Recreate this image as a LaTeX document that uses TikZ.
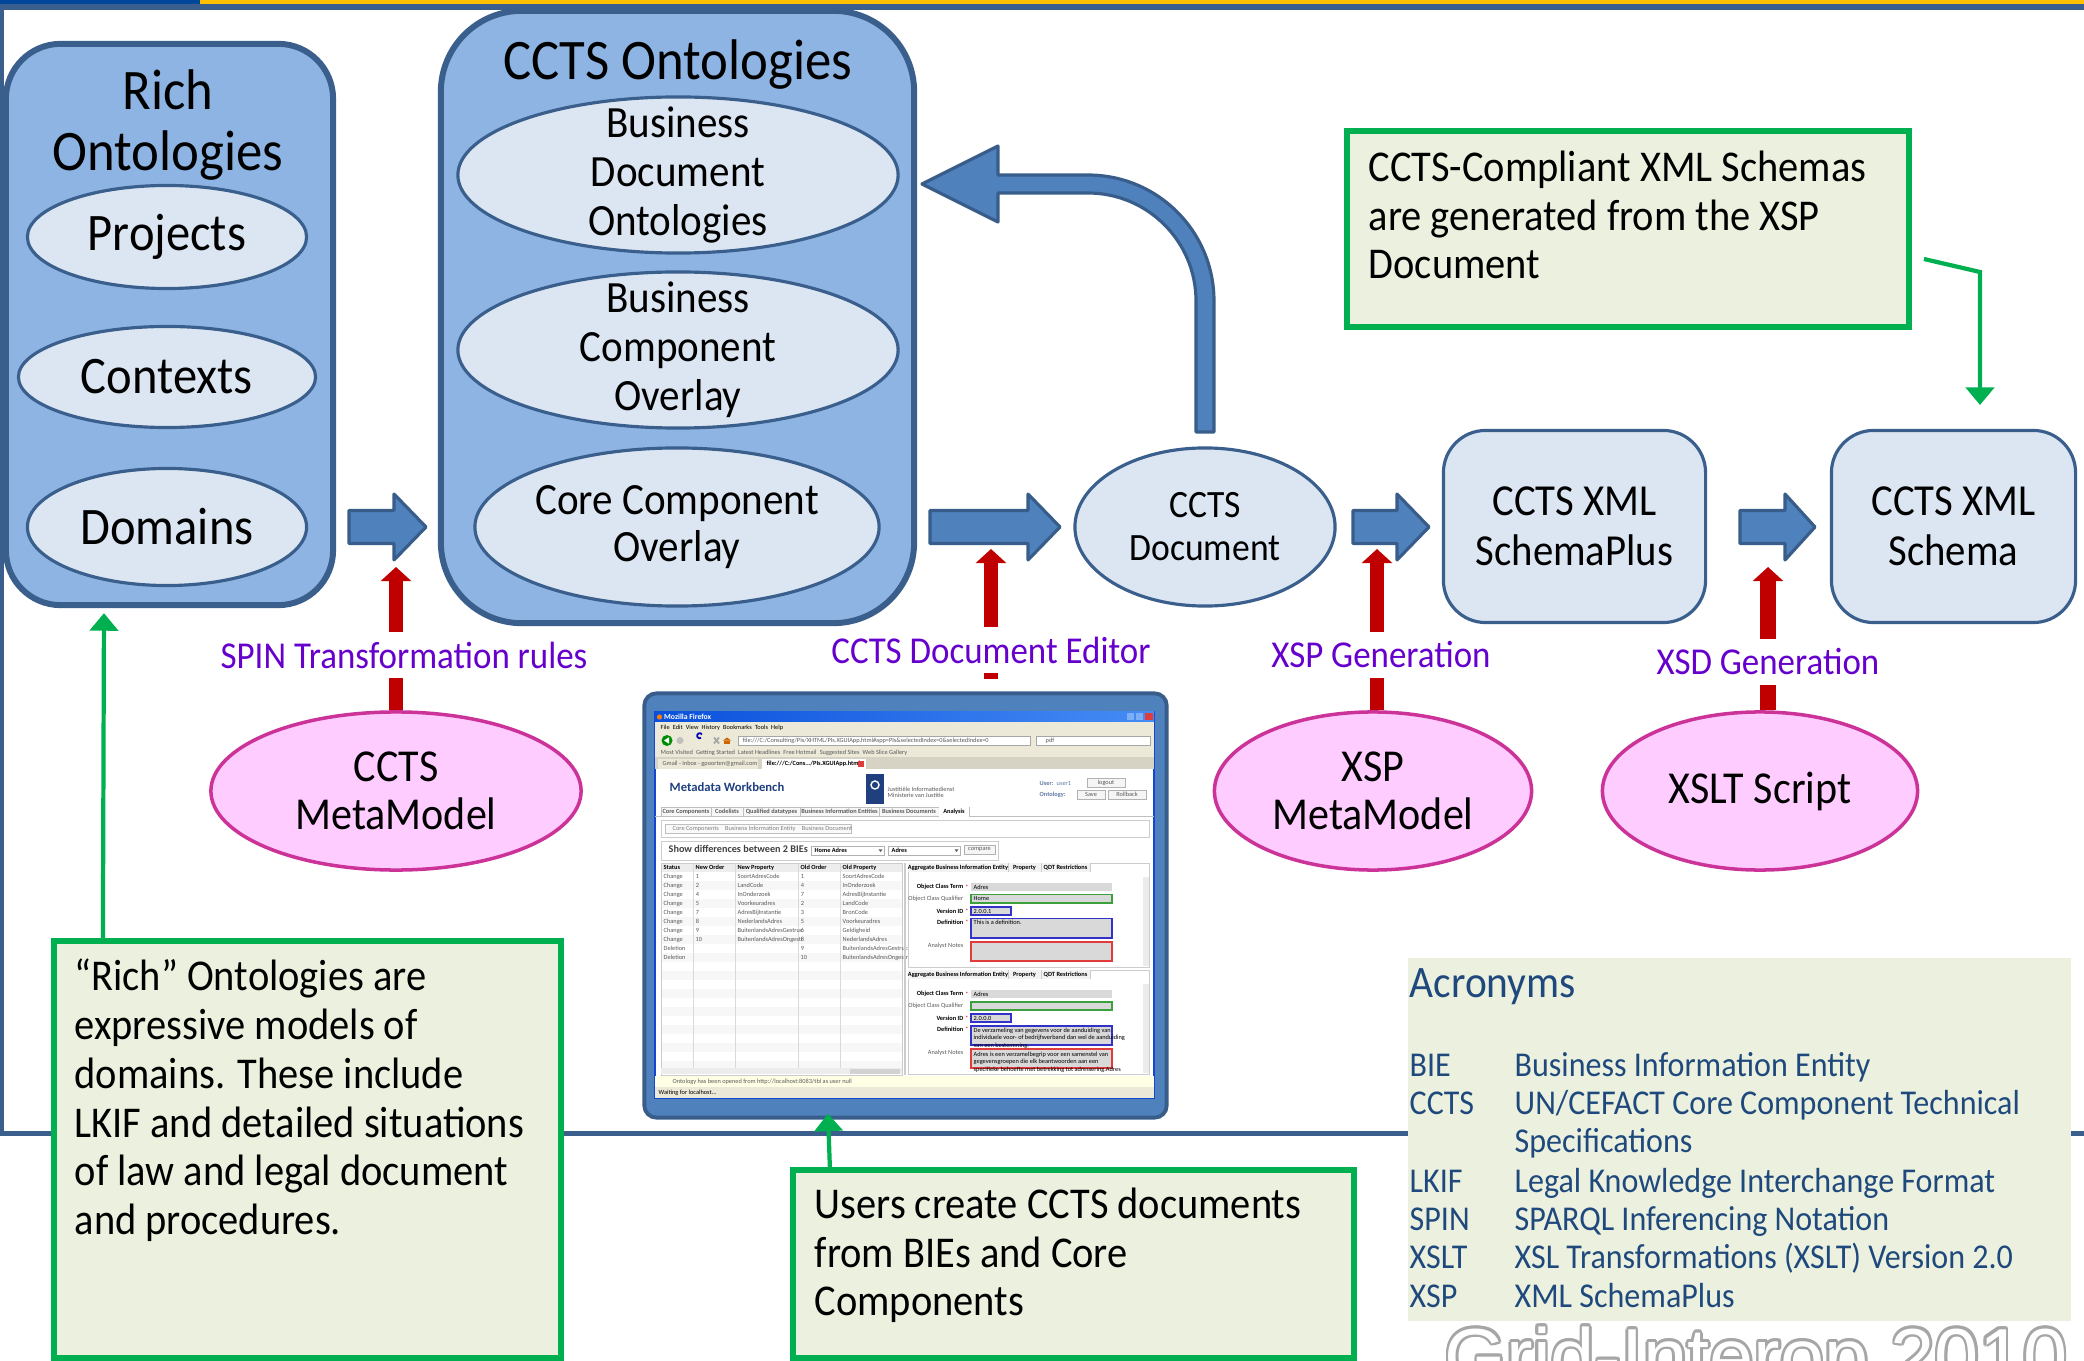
\documentclass[tikz,border=0pt]{standalone}
\usepackage{fontspec}
\setmainfont{Carlito}[FakeStretch=0.92]
\newfontfamily\uifont{Carlito}
\newfontfamily\wmfont{Liberation Sans}
\usetikzlibrary{arrows.meta,shapes.geometric}

\definecolor{frameblue}{RGB}{58,95,140}
\definecolor{boxblue}{RGB}{142,180,227}
\definecolor{paleblue}{RGB}{220,230,242}
\definecolor{arrowblue}{RGB}{79,129,189}
\definecolor{arrowedge}{RGB}{56,93,138}
\definecolor{pinkfill}{RGB}{255,204,255}
\definecolor{pinkedge}{RGB}{204,51,153}
\definecolor{rulered}{RGB}{192,0,0}
\definecolor{notegreen}{RGB}{0,176,80}
\definecolor{notefill}{RGB}{235,241,222}
\definecolor{labelviolet}{RGB}{102,0,204}
\definecolor{acrblue}{RGB}{31,73,125}
\definecolor{topgold}{RGB}{255,192,0}
\definecolor{topblue}{RGB}{0,70,155}
\definecolor{wmgrey}{RGB}{166,166,166}
\definecolor{xpblue}{RGB}{20,70,210}
\definecolor{xptitleA}{RGB}{10,80,220}
\definecolor{xptitleB}{RGB}{70,140,245}
\definecolor{xpbeige}{RGB}{236,233,216}
\definecolor{xptab}{RGB}{214,210,196}
\definecolor{uiink}{RGB}{90,90,90}
\definecolor{uihead}{RGB}{31,63,127}
\definecolor{fieldgrey}{RGB}{217,217,217}
\definecolor{fieldgreen}{RGB}{60,160,60}
\definecolor{fieldblue}{RGB}{50,50,200}
\definecolor{fieldred}{RGB}{224,60,60}
\definecolor{statusfill}{RGB}{255,255,230}

\newcommand\setfs[2]{\fontsize{#1}{#2}\selectfont}
% right-pointing block arrow: tail x, head base x, tip x, centre y
\newcommand\flowarrow[4]{%
  \draw[blockarrow] (#1,#4-16.5) -- (#2,#4-16.5) -- (#2,#4-33) -- (#3,#4)
    -- (#2,#4+33) -- (#2,#4+16.5) -- (#1,#4+16.5) -- cycle;}

\begin{document}
\begin{tikzpicture}[x=0.01cm,y=-0.01cm,
  container/.style={draw=frameblue,line width=1.7pt,fill=boxblue,inner sep=0pt},
  subellipse/.style={ellipse,draw=frameblue,line width=0.9pt,fill=paleblue,inner sep=0pt},
  stage/.style={draw=frameblue,line width=0.9pt,fill=paleblue,rounded corners=12pt,inner sep=0pt,align=center,font=\setfs{12.6}{14.2}},
  toolellipse/.style={ellipse,draw=pinkedge,line width=1pt,fill=pinkfill,inner sep=0pt,align=center,font=\setfs{13}{13.6}},
  nodetext/.style={align=center,inner sep=0pt},
  notebox/.style={draw=notegreen,line width=1.7pt,fill=notefill,inner sep=0pt},
  notetext/.style={anchor=north west,align=left,inner sep=0pt,font=\setfs{12.5}{13.9}},
  blockarrow/.style={fill=arrowblue,draw=arrowedge,line width=0.9pt,line join=round},
  ruleline/.style={draw=rulered,line width=4pt},
  rulearrow/.style={ruleline,-{Triangle[width=8.5pt,length=4pt]}},
  notearrow/.style={draw=notegreen,line width=1.2pt,-{Triangle[width=8pt,length=5pt]}},
  steplabel/.style={text=labelviolet,font=\setfs{10.8}{13},inner sep=0pt,minimum height=0.44cm},
  acr/.style={anchor=base west,inner sep=0pt,text=acrblue,font=\setfs{9.9}{11}},
  watermark/.style={anchor=base west,inner sep=0pt,font=\wmfont\setfs{22.6}{26}},
  uitext/.style={inner sep=0pt,font=\uifont\setfs{1.8}{2.2},text=uiink},
  uibold/.style={uitext,font=\uifont\bfseries\setfs{1.8}{2.2},text=black},
  dropmark/.style={fill=uiink},
]
\useasboundingbox (0,0) rectangle (2084,1361);

% ---------- slide frame ----------
\fill[topgold] (0,0) rectangle (2084,4.5);
\fill[topblue] (0,0) rectangle (200,4.5);
\fill[frameblue] (0,4.5) rectangle (2084,10);
\fill[frameblue] (0,10) rectangle (3.5,1136);
\fill[frameblue] (0,1130.5) rectangle (2084,1136);

% ---------- rich ontologies ----------
\node[container,rounded corners=15.6pt,minimum width=3.27cm,minimum height=5.61cm] (rich) at (169.5,324.5) {};
\node[nodetext,font=\setfs{16.3}{17.4}] (richtitle) at (168,125) {Rich\\Ontologies};
\node[subellipse,minimum width=2.79cm,minimum height=1.03cm,font=\setfs{15}{17}] (projects) at (167,237) {Projects};
\node[subellipse,minimum width=2.97cm,minimum height=1.01cm,font=\setfs{15}{17}] (contexts) at (167,377) {Contexts};
\node[subellipse,minimum width=2.79cm,minimum height=1.17cm,font=\setfs{15}{17}] (domains) at (167,527) {Domains};

% ---------- CCTS ontologies ----------
\node[container,rounded corners=23pt,minimum width=4.73cm,minimum height=6.12cm] (ccts) at (677.5,317) {};
\node[nodetext,font=\setfs{16.3}{18}] (cctstitle) at (678,65) {CCTS Ontologies};
\node[subellipse,minimum width=4.40cm,minimum height=1.56cm] (bdo) at (678,175) {};
\node[nodetext,font=\setfs{12.7}{13.9}] (bdotext) at (bdo) {Business\\Document\\Ontologies};
\node[subellipse,minimum width=4.40cm,minimum height=1.56cm] (bco) at (678,350) {};
\node[nodetext,font=\setfs{12.7}{13.9}] (bcotext) at (bco) {Business\\Component\\Overlay};
\node[subellipse,minimum width=4.04cm,minimum height=1.58cm] (cco) at (677,527) {};
\node[nodetext,font=\setfs{12.7}{13.4}] (ccotext) at (cco) {Core Component\\Overlay};

% ---------- generation chain ----------
\node[subellipse,minimum width=2.60cm,minimum height=1.58cm,align=center,font=\setfs{11}{12.2}] (doc) at (1205,527) {CCTS\\Document};
\node[stage,minimum width=2.62cm,minimum height=1.92cm] (schemaplus) at (1574.5,526.5) {CCTS XML\\SchemaPlus};
\node[stage,minimum width=2.44cm,minimum height=1.92cm] (schema) at (1953.5,526.5) {CCTS XML\\Schema};

\flowarrow{349}{394}{426}{527}
\flowarrow{930}{1028}{1060}{527}
\flowarrow{1353}{1397}{1429}{527}
\flowarrow{1740}{1785}{1815}{527}

% feedback arrow from the document back to the ontologies
\draw[blockarrow] (1214,432) -- (1214,301) .. controls (1214,231.4) and (1157.6,175) .. (1088,175)
  -- (998,175) -- (998,146) -- (922,184) -- (998,222) -- (998,193) -- (1088,193)
  .. controls (1147.6,193) and (1196,241.4) .. (1196,301) -- (1196,432) -- cycle;

% ---------- tools ----------
\node[toolellipse,minimum width=3.70cm,minimum height=1.58cm] (ccmm) at (396,791) {CCTS\\MetaModel};
\node[toolellipse,minimum width=3.17cm,minimum height=1.58cm] (xspmm) at (1373,791) {XSP\\MetaModel};
\node[toolellipse,minimum width=3.15cm,minimum height=1.58cm] (xslt) at (1760,791) {XSLT Script};

\coordinate (spintip) at (396,567);
\coordinate (editortip) at (991,549);
\coordinate (xsptip) at (1377,549);
\coordinate (xsdtip) at (1768,567);
\coordinate (editorstub) at (991,679);
\node[steplabel] (spinlbl) at (404,655) {SPIN Transformation rules};
\node[steplabel] (editorlbl) at (991,650) {CCTS Document Editor};
\node[steplabel] (xsplbl) at (1381,655) {XSP Generation};
\node[steplabel] (xsdlbl) at (1768,662) {XSD Generation};
\draw[ruleline] (ccmm.north) -- (ccmm.north |- spinlbl.south);
\draw[rulearrow] (ccmm.north |- spinlbl.north) -- (spintip);
\draw[ruleline] (editorstub) -- (editorstub |- editorlbl.south);
\draw[rulearrow] (editortip |- editorlbl.north) -- (editortip);
\draw[ruleline] (xsptip |- xspmm.north) -- (xsptip |- xsplbl.south);
\draw[rulearrow] (xsptip |- xsplbl.north) -- (xsptip);
\draw[ruleline,line width=4.4pt] (xsdtip |- xslt.north) -- (xsdtip |- xsdlbl.south);
\draw[rulearrow,line width=4.4pt] (xsdtip |- xsdlbl.north) -- (xsdtip);

% ---------- notes ----------
\node[notebox,minimum width=5.62cm,minimum height=1.96cm] (notetr) at (1628,229) {};
\node[notetext] (notetrtext) at (1368,150) {CCTS-Compliant XML Schemas\\are generated from the XSP\\Document};
\coordinate (n1from) at (1924,259);
\coordinate (n1bend) at (1980,272);
\coordinate (n1to) at (1980,405);
\draw[notearrow] (n1from) -- (n1bend) -- (n1to);

\node[notebox,minimum width=5.07cm,minimum height=4.17cm] (noterich) at (307.5,1149.5) {};
\node[notetext] (noterichtext) at (74,958) {“Rich” Ontologies are\\expressive models of\\domains. These include\\LKIF and detailed situations\\of law and legal document\\and procedures.};
\draw[notearrow] ([xshift=0.52cm]noterich.north west) -- ([xshift=1.01cm,yshift=-0.05cm]rich.south west);

\node[notebox,minimum width=5.61cm,minimum height=1.88cm] (noteusers) at (1073.5,1264) {};
\node[notetext] (noteuserstext) at (814,1187) {Users create CCTS documents\\from BIEs and Core\\Components};

% ---------- acronyms ----------
\node[fill=notefill,inner sep=0pt,minimum width=6.63cm,minimum height=3.63cm] (acrbox) at (1739.5,1139.5) {};
\node[acr,font=\setfs{12.8}{14}] (acrtitle) at (1409,997) {Acronyms};
\foreach \y/\k/\v [count=\n] in {1076/BIE/{Business Information Entity},
    1114/CCTS/{UN/CEFACT Core Component Technical},
    1152/{}/{Specifications},
    1192/LKIF/{Legal Knowledge Interchange Format},
    1230/SPIN/{SPARQL Inferencing Notation},
    1268/XSLT/{XSL Transformations (XSLT) Version 2.0},
    1307/XSP/{XML SchemaPlus}}{
  \node[acr] (acrk\n) at (1409,\y) {\k};
  \node[acr] (acrv\n) at (1514,\y) {\v};
}

% ---------- watermark ----------
\foreach \a in {0,30,...,330}{
  \node[watermark,text=wmgrey,shift={(\a:2.6)}] (wm\a) at (1444,1384) {Grid-Interop 2010};
}
\node[watermark,text=white] (wm) at (1444,1384) {Grid-Interop 2010};

% ---------- editor screenshot ----------
\node[draw=arrowedge,fill=arrowblue,line width=1.1pt,rounded corners=3.4pt,minimum width=5.22cm,minimum height=4.24cm,inner sep=0pt] (panel) at (905.5,905.5) {};
\node[draw=xpblue,line width=0.5pt,fill=white,minimum width=4.99cm,minimum height=3.86cm,inner sep=0pt] (browser) at (904.5,905) {};
\draw[notearrow] ([xshift=0.40cm]noteusers.north west) -- ([xshift=-0.775cm,yshift=0.06cm]panel.south);

% title bar
\shade[left color=xptitleA,right color=xptitleB] (655,712) rectangle (1154,722);
\fill[orange] (659.5,717) circle (2.6);
\node[uitext,anchor=west,text=white,font=\uifont\bfseries\setfs{2.2}{2.6}] (fftitle) at (663.5,717) {Mozilla Firefox};
\fill[xptitleB!70!white] (1127,713.5) rectangle (1134,720.5);
\fill[xptitleB!70!white] (1136,713.5) rectangle (1143,720.5);
\fill[fieldred] (1145,713.5) rectangle (1152.5,720.5);
% menu, navigation and bookmark bars
\fill[xpbeige] (655,722) rectangle (1154,757);
\node[uitext,anchor=west,text=black] (ffmenu) at (660,727.5) {File\enspace Edit\enspace View\enspace History\enspace Bookmarks\enspace Tools\enspace Help};
\fill[green!55!black] (667,740.5) circle (5.5);
\fill[white] (664,740.5) -- (669,737.3) -- (669,743.7) -- cycle;
\fill[gray!50] (680,740.5) circle (3.5);
\draw[blue!70!black,line width=0.5pt] (701,738) arc[start angle=60,end angle=330,radius=2.6];
\draw[gray!70,line width=0.5pt] (714,737.5) -- (719,743.5) (714,743.5) -- (719,737.5);
\fill[orange!80!black] (727,737.5) -- (731,740.5) -- (723,740.5) -- cycle;
\fill[orange!80!black] (724,740.5) rectangle (730,744);
\draw[gray!70,fill=white,line width=0.2pt] (738,736) rectangle (1030,745);
\node[uitext,anchor=west] (ffurl) at (742,740.5) {file:///C:/Consulting/PIs/XHTML/PIs.XGUIApp.html\#app=PIs\&selectedIndex=0\&selectedIndex=0};
\draw[gray!70,fill=white,line width=0.2pt] (1036,736) rectangle (1150,745);
\node[uitext,anchor=west] (ffsearch) at (1045,740.5) {pdf};
\node[uitext,anchor=west] (ffbookmarks) at (660,752.5) {Most Visited\enspace Getting Started\enspace Latest Headlines\enspace Free Hotmail\enspace Suggested Sites\enspace Web Slice Gallery};
% tab strip
\fill[xptab] (655,757) rectangle (1154,769);
\fill[xpbeige] (658,759) rectangle (758,769);
\node[uitext,anchor=west] (fftab1) at (662,764) {Gmail - Inbox - gpoorten@gmail.com};
\fill[white] (762,759) rectangle (866,769);
\node[uibold,anchor=west] (fftab2) at (766,764) {file:///C:/Cons.../PIs.XGUIApp.html};
\fill[fieldred] (858,761) rectangle (864,767);

% page header
\node[anchor=base west,inner sep=0pt,text=uihead,font=\uifont\bfseries\setfs{3.6}{4}] (mwtitle) at (669,791) {Metadata Workbench};
\fill[uihead] (866,774) rectangle (884,804);
\draw[white,line width=0.4pt] (875,785) circle (4);
\node[uitext,anchor=west] (logo1) at (887,789) {Justitiële Informatiedienst};
\node[uitext,anchor=west] (logo2) at (887,795) {Ministerie van Justitie};
\node[uibold,anchor=west,text=uihead!70] (userlbl) at (1039,783) {User:\enspace\mdseries user1};
\node[uibold,anchor=west,text=uihead!70] (ontlbl) at (1039,795) {Ontology:};
\draw[gray!60,fill=gray!8,line width=0.2pt] (1087,778) rectangle (1125,787);
\node[uitext] (btnlogout) at (1106,782.5) {logout};
\draw[gray!60,fill=gray!8,line width=0.2pt] (1077,790) rectangle (1105,799);
\node[uitext] (btnsave) at (1091,794.5) {Save};
\draw[gray!60,fill=gray!8,line width=0.2pt] (1108,790) rectangle (1146,799);
\node[uitext] (btnroll) at (1127,794.5) {Rollback};

% main tabs
\draw[gray!50,line width=0.2pt] (655,816) -- (939,816) (969,816) -- (1154,816);
\foreach \xa/\xb/\t [count=\n] in {661/711/Core Components,711/743/Codelists,743/800/Qualified datatypes,800/879/Business Information Entities,879/939/Business Documents,939/969/Analysis}{
  \draw[gray!50,line width=0.2pt,fill=gray!6] (\xa,807) rectangle (\xb,816);
  \node[uibold,text=uiink] (tab\n) at ({(\xa+\xb)/2},811.5) {\t};
}
\fill[white] (939.2,807.2) rectangle (968.8,816.5);
\node[uibold] (tabactive) at (954,811.5) {Analysis};
\draw[gray!40,line width=0.2pt] (661,820) rectangle (1149,837);
\draw[gray!50,line width=0.2pt,fill=gray!5] (665,824) rectangle (851,833);
\node[uitext,anchor=west,text=gray] (subtabs) at (672,828.5) {Core Components\quad Business Information Entity\quad Business Document};

% comparison selector
\draw[gray!40,line width=0.2pt] (661,841) rectangle (998,860);
\node[anchor=base west,inner sep=0pt,text=black!75,font=\uifont\bfseries\setfs{2.9}{3}] (showdiff) at (668,853) {Show differences between 2 BIEs};
\draw[gray!60,fill=white,line width=0.2pt] (811,846) rectangle (884,855);
\node[uibold,anchor=west] (sel1) at (814,850.5) {Home Adres};
\fill[dropmark] (878.5,849.3) -- (882.5,849.3) -- (880.5,852) -- cycle;
\draw[gray!60,fill=white,line width=0.2pt] (888,846) rectangle (960,855);
\node[uibold,anchor=west] (sel2) at (891,850.5) {Adres};
\fill[dropmark] (954.5,849.3) -- (958.5,849.3) -- (956.5,852) -- cycle;
\draw[gray!60,fill=gray!8,line width=0.2pt] (964,845) rectangle (995,854);
\node[uitext] (btncompare) at (979.5,849.5) {compare};

% difference table
\foreach \r in {1,3,...,21}{\fill[gray!6] (661,{872+9*\r}) rectangle (902,{881+9*\r});}
\fill[gray!14] (661,863) rectangle (902,872);
\draw[gray!40,line width=0.2pt] (661,863) rectangle (902,1075);
\foreach \cx in {693,735,798,840}{\draw[gray!30,line width=0.15pt] (\cx,863) -- (\cx,1068);}
\foreach \cx/\t [count=\n] in {663/Status,695/New Order,737/New Property,800/Old Order,842/Old Property}{
  \node[uibold,anchor=west] (th\n) at (\cx,867.5) {\t};
}
\foreach \r/\st/\no/\np/\oo/\op in {0/Change/1/SoortAdresCode/1/SoortAdresCode,
    1/Change/2/LandCode/4/InOnderzoek,
    2/Change/4/InOnderzoek/7/AdresBijInstantie,
    3/Change/5/Voorkeuradres/2/LandCode,
    4/Change/7/AdresBijInstantie/3/BronCode,
    5/Change/8/NederlandsAdres/5/Voorkeuradres,
    6/Change/9/BuitenlandsAdresGestruc/6/Geldigheid,
    7/Change/10/BuitenlandsAdresOngestr/8/NederlandsAdres,
    8/Deletion///9/BuitenlandsAdresGestruc,
    9/Deletion///10/BuitenlandsAdresOngestr}{
  \node[uitext,anchor=west] (ra\r) at (663,{876.5+9*\r}) {\st};
  \node[uitext,anchor=west] (rb\r) at (695,{876.5+9*\r}) {\no};
  \node[uitext,anchor=west] (rc\r) at (737,{876.5+9*\r}) {\np};
  \node[uitext,anchor=west] (rd\r) at (800,{876.5+9*\r}) {\oo};
  \node[uitext,anchor=west] (re\r) at (842,{876.5+9*\r}) {\op};
}
\fill[gray!15] (661,1068) rectangle (902,1074);
\fill[gray!35] (850,1068.5) rectangle (900,1073.5);
\draw[gray!40,line width=0.3pt] (905,863) -- (905,1075);

% detail panels
\foreach \off/\p in {0/a,107.3/b}{
  \draw[gray!40,line width=0.2pt] (908,{863+\off}) rectangle (1149,{967+\off});
  \fill[gray!10] (908,{863+\off}) rectangle (1090,{872+\off});
  \draw[gray!40,line width=0.2pt] (1008,{863+\off}) -- (1008,{872+\off}) (1041,{863+\off}) -- (1041,{872+\off}) (1090,{863+\off}) -- (1090,{872+\off});
  \node[uibold] (pt1\p) at (958,{867.5+\off}) {Aggregate Business Information Entity};
  \node[uibold] (pt2\p) at (1024.5,{867.5+\off}) {Property};
  \node[uibold] (pt3\p) at (1065.5,{867.5+\off}) {QDT Restrictions};
  \fill[gray!15] (1143,{877+\off}) rectangle (1149,{966+\off});
  \fill[fieldgrey] (971,{883+\off}) rectangle (1112,{891+\off});
  \draw[fieldgreen,fill=fieldgrey,line width=0.5pt] (971,{894.5+\off}) rectangle (1112,{903+\off});
  \draw[fieldblue,fill=fieldgrey,line width=0.5pt] (971,{907+\off}) rectangle (1011,{915+\off});
  \draw[fieldblue,fill=fieldgrey,line width=0.5pt] (971,{918.5+\off}) rectangle (1112,{938+\off});
  \draw[fieldred,fill=fieldgrey,line width=0.5pt] (971,{942+\off}) rectangle (1112,{961+\off});
  \node[uibold,anchor=east] (fl1\p) at (964,{887+\off}) {Object Class Term};
  \node[uitext,anchor=east] (fl2\p) at (964,{898.7+\off}) {Object Class Qualifier};
  \node[uibold,anchor=east] (fl3\p) at (964,{911+\off}) {Version ID};
  \node[uibold,anchor=east] (fl4\p) at (964,{922+\off}) {Definition};
  \node[uitext,anchor=east] (fl5\p) at (964,{945.5+\off}) {Analyst Notes};
  \foreach \yy in {887,911,922}{\node[uitext,text=red] at (967,{\yy+\off}) {*};}
  \node[uitext,anchor=west,text=black] (fv1\p) at (973,{887+\off}) {Adres};
}
\node[uitext,anchor=west,text=black] (fv2a) at (973,898.7) {Home};
\node[uitext,anchor=west,text=black] (fv3a) at (973,911) {2.0.0.1};
\node[uitext,anchor=west,text=black] (fv4a) at (973,922) {This is a definition.};
\node[uitext,anchor=west,text=black] (fv3b) at (973,1018.3) {2.0.0.0};
\node[uitext,anchor=north west,align=left,text=black] (fv4b) at (973,1027) {De verzameling van gegevens voor de aanduiding van\\individuele voor- of bedrijfsverband dan wel de aanduiding\\van een bestemming.};
\node[uitext,anchor=north west,align=left,text=black] (fv5b) at (973,1051) {Adres is een verzamelbegrip voor een samenstel van\\gegevensgroepen die elk beantwoorden aan een\\specifieke behoefte met betrekking tot adressering.Adres};

% status bars
\fill[statusfill] (655,1076) rectangle (1154,1087);
\node[uitext,anchor=west] (ffstatus) at (672,1081.5) {Ontology has been opened from http://localhost:8083/tbl as user null};
\fill[xpbeige] (655,1087) rectangle (1154,1097.5);
\node[uitext,anchor=west,text=black] (ffwait) at (658,1092.5) {Waiting for localhost...};

\end{tikzpicture}
\end{document}
